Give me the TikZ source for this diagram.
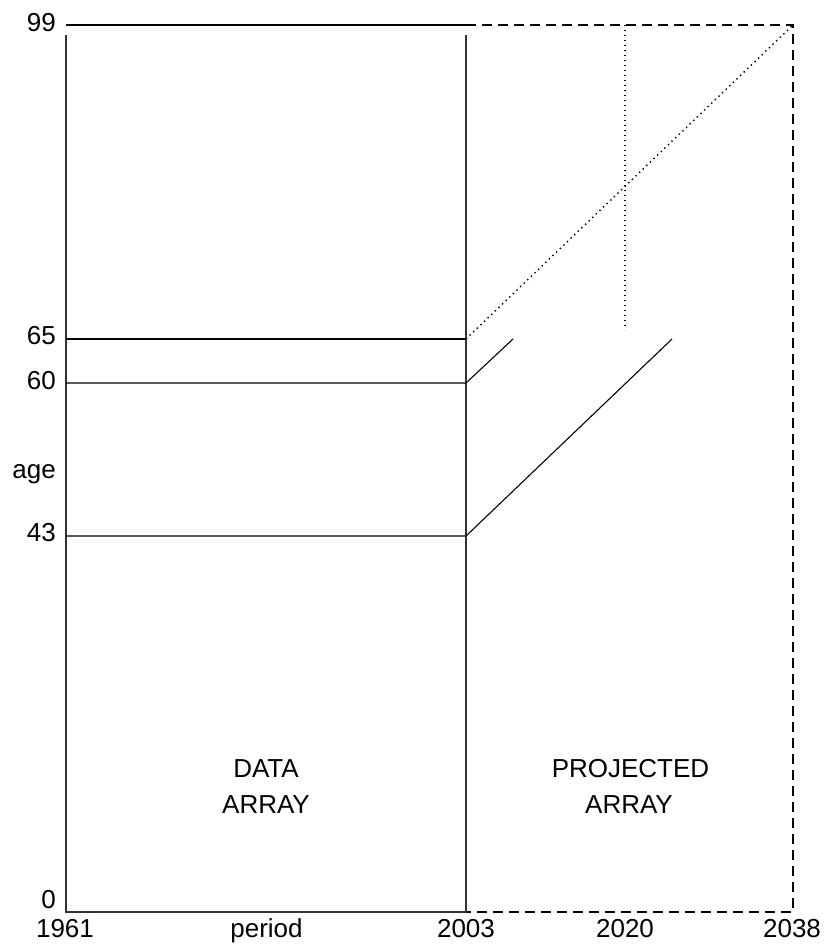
\documentclass[tikz,border=0pt]{standalone}
\usepackage{fontspec}
\setmainfont{Liberation Sans}
\begin{document}
\begin{tikzpicture}[x=1pt,y=-1pt,
  lbl/.style={inner sep=0pt, font=\fontsize{26}{36.6}\selectfont},
  axis/.style={line width=1.2pt, draw=black!80},
  solidln/.style={line width=1.1pt},
  dashln/.style={line width=1.1pt, dash pattern=on 10pt off 6pt},
  dotln/.style={line width=1.4pt, dash pattern=on 1.4pt off 3.6pt}]
\useasboundingbox (0,0) rectangle (826,944);
% coordinates
\coordinate (TL) at (66,25);
\coordinate (T2003) at (466,25);
\coordinate (T2020) at (625,25);
\coordinate (T2038) at (793,25);
\coordinate (L0) at (66,35);
\coordinate (BL) at (66,912);
\coordinate (V0) at (466,35);
\coordinate (B2003) at (466,912);
\coordinate (B2038) at (793,912);
\coordinate (L65) at (66,339);
\coordinate (R65) at (466,339);
\coordinate (L60) at (66,383);
\coordinate (R60) at (466,383);
\coordinate (L43) at (66,536);
\coordinate (R43) at (466,536);
\coordinate (E60) at (513,339);
\coordinate (E43) at (672,339);
\coordinate (D2020) at (625,330);
% frame
\draw[solidln] (TL) -- (T2003);
\draw[dashln] (T2003) -- (T2038) -- (B2038) -- (B2003);
\draw[axis] (L0) -- (BL) -- (B2003) -- (V0);
% age lines
\draw[solidln] (L65) -- (R65);
\draw[solidln] (L60) -- (R60) -- (E60);
\draw[solidln] (L43) -- (R43) -- (E43);
% dotted
\draw[dotln] (R65) -- (T2038);
\draw[dotln] (T2020) -- (D2020);
% labels
\node[lbl, anchor=base east] (n99) at (56,31.5) {99};
\node[lbl, anchor=base east] (n65) at (56,344) {65};
\node[lbl, anchor=base east] (n60) at (56,389) {60};
\node[lbl, anchor=base east] (nage) at (56,478) {age};
\node[lbl, anchor=base east] (n43) at (56,541) {43};
\node[lbl, anchor=base east] (n0) at (56,908) {0};
\node[lbl, anchor=base] (y1961) at (65,937) {1961};
\node[lbl, anchor=base] (per) at (266.5,937) {period};
\node[lbl, anchor=base] (y2003) at (466,937) {2003};
\node[lbl, anchor=base] (y2020) at (625,937) {2020};
\node[lbl, anchor=base] (y2038) at (792,937) {2038};
\node[lbl, anchor=base] (data1) at (266,777) {DATA};
\node[lbl, anchor=base] (data2) at (266,813.5) {ARRAY};
\node[lbl, anchor=base] (proj1) at (630.5,777) {PROJECTED};
\node[lbl, anchor=base] (proj2) at (629,813.5) {ARRAY};
\end{tikzpicture}
\end{document}
